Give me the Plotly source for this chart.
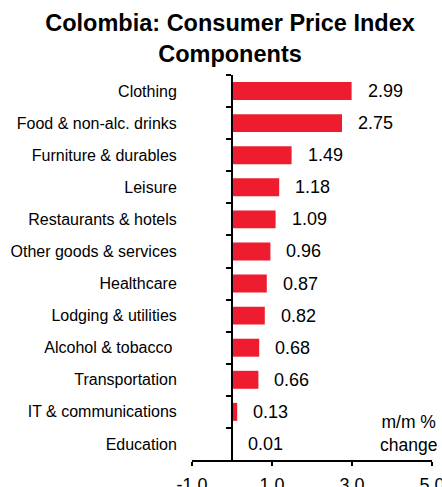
import plotly.graph_objects as go

# Monthly change by CPI component (m/m %)
categories = [
    "Clothing",
    "Food & non-alc. drinks",
    "Furniture & durables",
    "Leisure",
    "Restaurants & hotels",
    "Other goods & services",
    "Healthcare",
    "Lodging & utilities",
    "Alcohol & tobacco\u00a0",
    "Transportation",
    "IT & communications",
    "Education",
]
values = [2.99, 2.75, 1.49, 1.18, 1.09, 0.96, 0.87, 0.82, 0.68, 0.66, 0.13, 0.01]

x_ticks = [-1.0, 1.0, 3.0, 5.0]
x_tick_text = ["-1.0", "1.0", "3.0", "5.0"]

FONT = "Liberation Sans, Arial, sans-serif"
RED = "#ED1C2E"

fig = go.Figure()
fig.add_trace(
    go.Bar(
        x=values,
        y=categories,
        orientation="h",
        marker=dict(color=RED, line=dict(width=0)),
        width=0.56,
        hoverinfo="skip",
    )
)

# value labels to the right of each bar
for cat, val in zip(categories, values):
    fig.add_annotation(
        x=val, y=cat, xref="x", yref="y",
        text=f"{val:.2f}", showarrow=False,
        xanchor="left", yanchor="middle", xshift=14,
        font=dict(family=FONT, size=18, color="black"),
    )

fig.add_annotation(
    x=0.9, y=0.07, xref="paper", yref="paper",
    text="m/m %<br>change", showarrow=False,
    xanchor="center", yanchor="middle", align="center",
    font=dict(family=FONT, size=17.5, color="black"),
)

fig.update_layout(
    width=442,
    height=487,
    margin=dict(l=192, r=10, t=75, b=27, autoexpand=False),
    paper_bgcolor="white",
    plot_bgcolor="white",
    showlegend=False,
    title=dict(
        text="<b>Colombia: Consumer Price Index<br>Components</b>",
        x=230 / 442, xanchor="center", xref="container",
        y=1 - 31 / 487, yanchor="top", yref="container",
        font=dict(family=FONT, size=23.5, color="black"),
    ),
    xaxis=dict(
        range=[-1, 5.0001],
        tickmode="array",
        tickvals=x_ticks,
        ticktext=x_tick_text,
        ticks="outside", ticklen=4, tickwidth=2, tickcolor="black",
        showline=True, linewidth=2, linecolor="black",
        showgrid=False, zeroline=False,
        tickfont=dict(family=FONT, size=18, color="black"),
        ticklabelstandoff=3,
        ticklabeloverflow="allow",
        automargin=False,
    ),
    yaxis=dict(
        type="category",
        categoryorder="array", categoryarray=categories,
        range=[len(categories) - 0.5, -0.5],
        anchor="free", position=1 / 6,
        tickson="boundaries",
        ticks="outside", ticklen=5, tickwidth=2, tickcolor="black",
        showline=True, linewidth=2, linecolor="black",
        showgrid=False, zeroline=False,
        tickfont=dict(family=FONT, size=16, color="black"),
        ticklabelstandoff=51,
        automargin=False,
    ),
)

fig.write_html("out.html")
